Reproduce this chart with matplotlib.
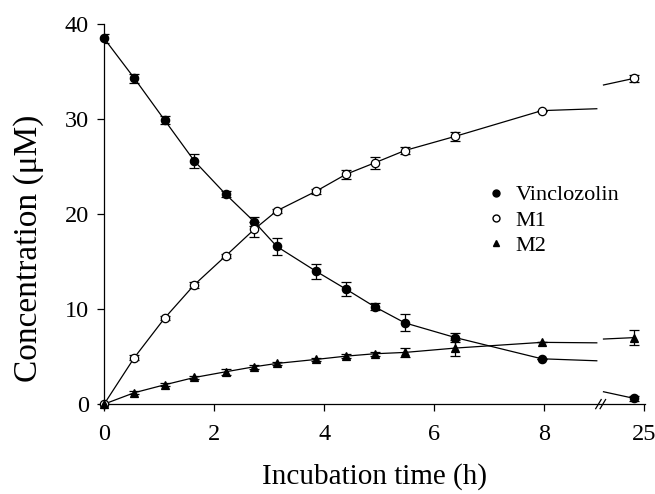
import numpy as np
import matplotlib.pyplot as plt

plt.rcParams['font.family'] = ['Liberation Serif', 'DejaVu Serif']

# sampling times (h); the last one sits beyond the axis break
t = [0, 0.55, 1.1, 1.64, 2.21, 2.73, 3.14, 3.85, 4.4, 4.92, 5.47, 6.39, 7.96, 24]

vinclozolin = [38.5, 34.3, 29.9, 25.6, 22.1, 19.2, 16.6, 14.0, 12.1, 10.25, 8.55, 7.0, 4.77, 0.6]
vin_err = [0.5, 0.5, 0.4, 0.7, 0.3, 0.5, 0.9, 0.8, 0.75, 0.35, 0.9, 0.5, 0.0, 0.3]

m1 = [0, 4.9, 9.05, 12.56, 15.6, 18.4, 20.35, 22.4, 24.2, 25.4, 26.7, 28.2, 30.9, 34.3]
m1_err = [0, 0.3, 0.2, 0.3, 0.2, 0.8, 0.2, 0.3, 0.5, 0.6, 0.4, 0.5, 0.0, 0.4]

m2 = [0, 1.2, 2.03, 2.8, 3.4, 3.93, 4.28, 4.7, 5.05, 5.3, 5.44, 5.9, 6.5, 7.0]
m2_err = [0, 0.15, 0.15, 0.2, 0.3, 0.2, 0.15, 0.15, 0.2, 0.2, 0.45, 0.8, 0.0, 0.8]

# curve values where the line stops before the break and restarts after it
t_stop, t_restart = 8.96, 20.9
vin_ends = [4.56, 1.3]
m1_ends = [31.1, 33.6]
m2_ends = [6.45, 6.85]

xticks = [0, 2, 4, 6, 8, 25]
yticks = [0, 10, 20, 30, 40]


def tx(v):
    # squeeze the 21-25 h range into the space right of the break
    v = np.asarray(v, dtype=float)
    return np.where(v <= 9, v, 9.82 - (25 - v) * 0.18)


fig = plt.figure(figsize=(6.55, 4.94), dpi=100)
ax = fig.add_axes([0.159, 0.182, 0.826, 0.769])

series = [
    (vinclozolin, vin_err, vin_ends, dict(marker='o', mfc='black', label='Vinclozolin')),
    (m1, m1_err, m1_ends, dict(marker='o', mfc='white', label='M1')),
    (m2, m2_err, m2_ends, dict(marker='^', mfc='black', label='M2')),
]

for y, err, ends, style in series:
    n = len(t) - 1
    # left part of the curve
    ax.plot(list(tx(t[:n])) + [t_stop], y[:n] + [ends[0]], color='black', lw=0.9)
    # right part, after the break
    ax.plot(tx([t_restart, t[-1]]), [ends[1], y[-1]], color='black', lw=0.9)
    ax.errorbar(tx(t), y, yerr=err, fmt='none', ecolor='black', elinewidth=0.9,
                capsize=3.5, capthick=0.9, zorder=3)
    ax.plot(tx(t), y, ls='none', color='black', mec='black', ms=6, mew=0.9,
            zorder=4, clip_on=False, **{k: v for k, v in style.items() if k != 'label'})

# legend built by hand to match the marker-only look
handles = [plt.Line2D([], [], ls='none', color='black', mec='black', ms=5, **s[3]) for s in series]
leg = ax.legend(handles=handles, loc='upper left', bbox_to_anchor=(0.662, 0.63), frameon=False,
                fontsize=16, handletextpad=0.3, labelspacing=0.22, handlelength=1.2)

ax.set_xlim(0, 9.84)
ax.set_ylim(0, 40)
ax.set_xticks(tx(xticks))
ax.set_xticklabels([str(v) for v in xticks])
ax.set_yticks(yticks)
ax.tick_params(labelsize=17.5, length=5, width=0.9, direction='out', pad=6)
ax.tick_params(axis='x', pad=9)
for s in ['top', 'right']:
    ax.spines[s].set_visible(False)
for s in ['left', 'bottom']:
    ax.spines[s].set_linewidth(0.9)

# axis break marks
brk = 9.05
for dx in (-0.06, 0.02):
    ax.plot([brk + dx - 0.05, brk + dx + 0.05], [-0.012, 0.012], color='black', lw=0.9,
            transform=ax.get_xaxis_transform(), clip_on=False)

ax.set_xlabel('Incubation time (h)', fontsize=21, labelpad=13)
ax.set_ylabel('Concentration (\u03bcM)', fontsize=24)
ax.yaxis.set_label_coords(-0.112, 0.41)

fig.savefig('out.png', dpi=100)
